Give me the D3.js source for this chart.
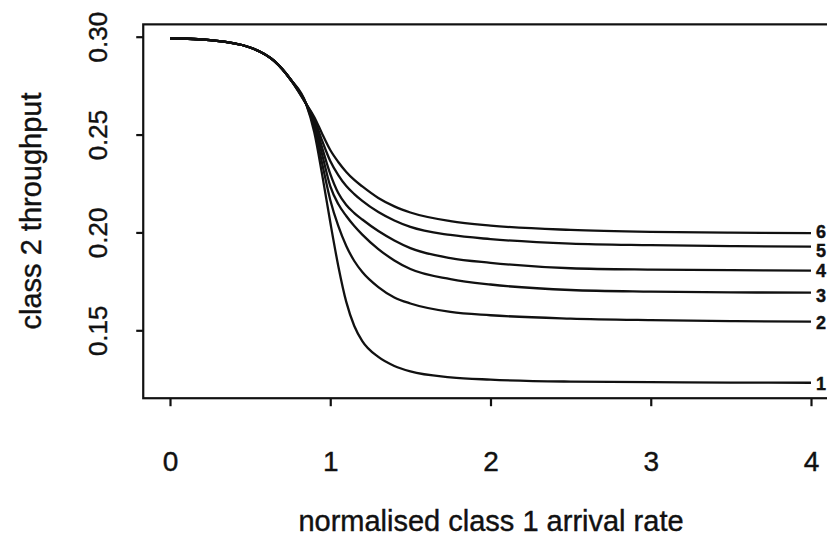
<!doctype html>
<html>
<head>
<meta charset="utf-8"/>
<title>class 2 throughput</title>
<script src="https://cdnjs.cloudflare.com/ajax/libs/d3/7.8.5/d3.min.js"></script>
<style>
	body { margin: 0; background: #fff; }
	svg { display: block; }
	text { font-family: "Liberation Sans", Arial, Helvetica, sans-serif; fill: #111; stroke: #111; stroke-width: 0.4px; }
</style>
</head>
<body>
<svg width="827" height="538"></svg>
<script>
	// values
	var xTicks = [0, 1, 2, 3, 4];
	var yTicks = [0.15, 0.20, 0.25, 0.30];
	var xVals = [0, 0.25, 0.5, 0.65, 0.75, 0.85, 0.9, 0.95, 1.0, 1.05, 1.1, 1.15, 1.2, 1.3, 1.4, 1.5, 1.75, 2.0, 2.5, 3.0, 3.5, 4.0];
	var common = [0.2992, 0.2982, 0.2945, 0.2876, 0.2784, 0.2656];
	var series1 = common.concat([0.2513, 0.2293, 0.2053, 0.1829, 0.1645, 0.1522, 0.1445, 0.1364, 0.1318, 0.1290, 0.1260, 0.1248, 0.1238, 0.1235, 0.1233, 0.1232]);
	var series2 = common.concat([0.2534, 0.2350, 0.2166, 0.2033, 0.1931, 0.1854, 0.1798, 0.1721, 0.1668, 0.1637, 0.1594, 0.1577, 0.1560, 0.1552, 0.1547, 0.1544]);
	var series3 = common.concat([0.2554, 0.2396, 0.2237, 0.2145, 0.2084, 0.2033, 0.1989, 0.1915, 0.1857, 0.1813, 0.1762, 0.1734, 0.1706, 0.1698, 0.1694, 0.1692]);
	var series4 = common.concat([0.2569, 0.2431, 0.2299, 0.2201, 0.2140, 0.2099, 0.2066, 0.2007, 0.1959, 0.1920, 0.1869, 0.1845, 0.1817, 0.1810, 0.1807, 0.1805]);
	var series5 = common.concat([0.2580, 0.2467, 0.2365, 0.2293, 0.2237, 0.2196, 0.2161, 0.2104, 0.2061, 0.2028, 0.1987, 0.1966, 0.1943, 0.1935, 0.1930, 0.1927]);
	var series6 = common.concat([0.2590, 0.2503, 0.2421, 0.2360, 0.2309, 0.2268, 0.2235, 0.2176, 0.2133, 0.2102, 0.2058, 0.2035, 0.2013, 0.2003, 0.1999, 0.1996]);
	var seriesNames = ["1", "2", "3", "4", "5", "6"];
	var allSeries = [series1, series2, series3, series4, series5, series6];

	// label nudges (px) so 5 and 6 don't collide
	var labelNudge = [0.5, 1, 2.5, 0, 3.5, -2];

	var svg = d3.select("svg");

	var xScale = d3.scaleLinear().domain([0, 4]).range([170, 811]);
	var yScale = d3.scaleLinear().domain([0.15, 0.30]).range([330.3, 36.7]);

	// plot frame (right side runs off the page)
	var fx0 = xScale(-0.167), fy0 = yScale(0.3063), fy1 = yScale(0.1153);
	svg.append("rect")
		.attr("x", fx0).attr("y", fy0)
		.attr("width", 900 - fx0).attr("height", fy1 - fy0)
		.attr("fill", "none").attr("stroke", "#111").attr("stroke-width", 2.2);

	var xAxis = d3.axisBottom(xScale).tickValues(xTicks).tickSize(8).tickPadding(45).tickFormat(d3.format("d"));
	var xg = svg.append("g").attr("transform", "translate(0," + fy1 + ")").call(xAxis);
	xg.select(".domain").remove();
	xg.selectAll("line").attr("stroke", "#111").attr("stroke-width", 2.2);
	xg.selectAll("text").attr("font-size", 28).attr("fill", "#111");

	var yAxis = d3.axisLeft(yScale).tickValues(yTicks).tickSize(7).tickFormat(d3.format(".2f"));
	var yg = svg.append("g").attr("transform", "translate(" + fx0 + ",0)").call(yAxis);
	yg.select(".domain").remove();
	yg.selectAll("line").attr("stroke", "#111").attr("stroke-width", 2.2);
	yg.selectAll("text")
		.attr("x", 0).attr("y", 0).attr("dy", 0)
		.attr("text-anchor", "middle")
		.attr("font-size", 26).attr("fill", "#111")
		.attr("transform", "translate(-36,0) rotate(-90)");

	var line = d3.line()
		.x(function(d, i) { return xScale(xVals[i]); })
		.y(function(d) { return yScale(d); })
		.curve(d3.curveMonotoneX);

	svg.selectAll("path.curve")
		.data(allSeries).enter()
		.append("path").attr("class", "curve")
		.attr("d", line)
		.attr("fill", "none").attr("stroke", "#111").attr("stroke-width", 2.3);

	svg.selectAll("text.lab")
		.data(allSeries).enter()
		.append("text").attr("class", "lab")
		.attr("x", xScale(4) + 5)
		.attr("y", function(d, i) { return yScale(d[d.length - 1]) + labelNudge[i]; })
		.attr("dy", "0.36em")
		.attr("font-size", 18).attr("font-weight", "bold")
		.text(function(d, i) { return seriesNames[i]; });

	svg.append("text")
		.attr("x", 491).attr("y", 531)
		.attr("text-anchor", "middle").attr("font-size", 29)
		.text("normalised class 1 arrival rate");

	svg.append("text")
		.attr("transform", "translate(41," + 211 + ") rotate(-90)")
		.attr("text-anchor", "middle").attr("font-size", 29)
		.text("class 2 throughput");
</script>
</body>
</html>
